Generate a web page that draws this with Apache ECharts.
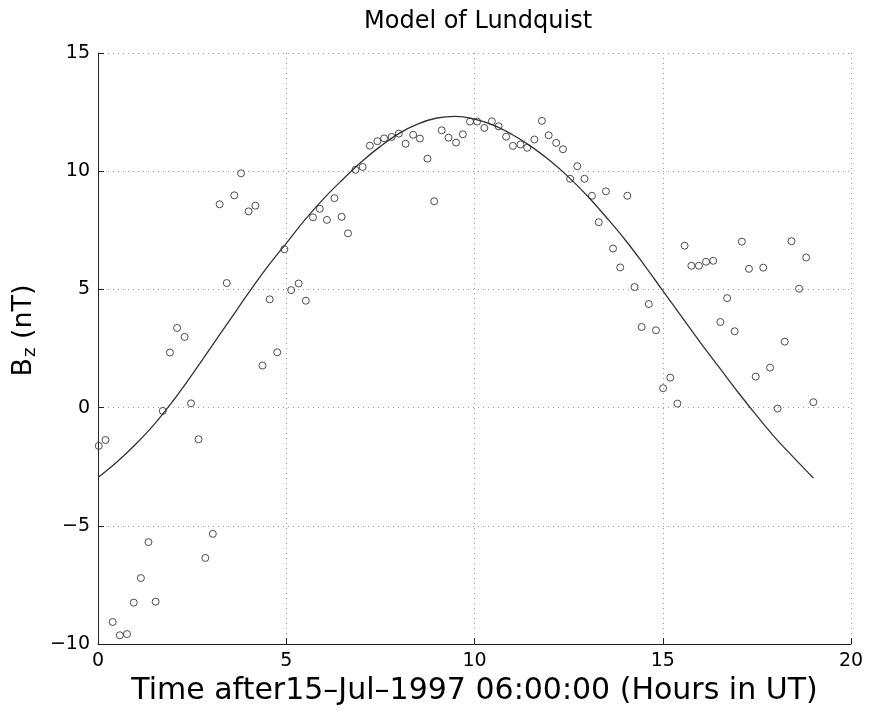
<!DOCTYPE html>
<html>
<head>
<meta charset="utf-8">
<title>Model of Lundquist</title>
<script src="https://cdn.jsdelivr.net/npm/echarts@6/dist/echarts.min.js"></script>
<style>
  html, body { margin: 0; padding: 0; background: #fff; }
  #main-chart { width: 870px; height: 716px; }
</style>
</head>
<body>
<div id="main-chart"></div>
<script>
// measured Bz samples (hours after 15-Jul-1997 06:00 UT, nT)
const obsHours = [
  0.02, 0.20, 0.39, 0.58, 0.77, 0.95, 1.14, 1.34, 1.53, 1.72,
  1.91, 2.10, 2.30, 2.47, 2.67, 2.85, 3.05, 3.23, 3.42, 3.62,
  3.80, 4.00, 4.18, 4.37, 4.56, 4.76, 4.95, 5.13, 5.33, 5.52,
  5.71, 5.89, 6.08, 6.28, 6.47, 6.64, 6.84, 7.03, 7.22, 7.42,
  7.60, 7.80, 7.99, 8.17, 8.37, 8.55, 8.75, 8.93, 9.13, 9.31,
  9.51, 9.69, 9.88, 10.07, 10.26, 10.46, 10.64, 10.84, 11.02, 11.22,
  11.40, 11.59, 11.79, 11.97, 12.17, 12.35, 12.54, 12.73, 12.92, 13.12,
  13.30, 13.49, 13.68, 13.87, 14.06, 14.25, 14.44, 14.63, 14.82, 15.01,
  15.20, 15.39, 15.58, 15.76, 15.96, 16.15, 16.34, 16.53, 16.71, 16.91,
  17.10, 17.29, 17.47, 17.67, 17.85, 18.05, 18.24, 18.42, 18.62, 18.81,
  19.00
];
const obsBz = [
  -1.62, -1.37, -9.07, -9.63, -9.58, -8.25, -7.21, -5.69, -8.21, -0.14,
  2.33, 3.37, 2.99, 0.18, -1.34, -6.36, -5.34, 8.60, 5.27, 8.98,
  9.91, 8.30, 8.54, 1.78, 4.58, 2.34, 6.70, 4.97, 5.25, 4.52,
  8.05, 8.41, 7.94, 8.86, 8.07, 7.37, 10.06, 10.18, 11.08, 11.27,
  11.39, 11.45, 11.59, 11.16, 11.54, 11.38, 10.53, 8.73, 11.73, 11.42,
  11.21, 11.56, 12.10, 12.10, 11.83, 12.11, 11.90, 11.46, 11.07, 11.13,
  10.99, 11.34, 12.13, 11.52, 11.20, 10.93, 9.68, 10.21, 9.68, 8.96,
  7.84, 9.15, 6.73, 5.93, 8.96, 5.10, 3.41, 4.38, 3.27, 0.82,
  1.27, 0.17, 6.85, 6.00, 6.00, 6.17, 6.21, 3.62, 4.63, 3.23,
  7.02, 5.87, 1.31, 5.92, 1.69, -0.04, 2.79, 7.04, 5.03, 6.35,
  0.23
];

// fitted Lundquist model curve
const modelHours = [0, 0.5, 1.0, 1.5, 2.0, 2.5, 3.0, 3.5, 4.0, 4.5, 5.0, 5.5, 6.0, 6.5, 7.0, 7.5,
  8.0, 8.5, 9.0, 9.5, 10.0, 10.5, 11.0, 11.5, 12.0, 12.5, 13.0, 13.5, 14.0, 14.5, 15.0,
  15.5, 16.0, 16.5, 17.0, 17.5, 18.0, 18.5, 19.0];
const modelBz = [-2.96, -2.3, -1.55, -0.7, 0.3, 1.4, 2.55, 3.7, 4.85, 5.95, 6.95, 7.95, 8.85,
  9.65, 10.4, 11.05, 11.6, 12.0, 12.25, 12.32, 12.2, 11.95, 11.55, 11.05, 10.45, 9.75,
  8.95, 8.05, 7.1, 6.05, 4.95, 3.85, 2.75, 1.7, 0.65, -0.35, -1.3, -2.15, -2.98];

const xTicks = [0, 20, 5];   // min, max, step
const yTicks = [-10, 15, 5];

const FONT = 'DejaVu Sans';
const INK = '#222';

const minusFmt = (v) => String(v).replace('-', '\u2212');

const chartDom = document.getElementById('main-chart');
const myChart = echarts.init(chartDom, null, { renderer: 'canvas' });

const option = {
  backgroundColor: '#fff',
  animation: false,
  title: {
    text: 'Model of Lundquist',
    left: 359,
    top: 5,
    textStyle: { fontFamily: FONT, fontSize: 24, fontWeight: 'normal', color: '#000' }
  },
  grid: { left: 98, right: 19, top: 53, bottom: 72 },
  xAxis: {
    type: 'value',
    min: xTicks[0], max: xTicks[1], interval: xTicks[2],
    name: 'Time after15\u2013Jul\u20131997 06:00:00 (Hours in UT)',
    nameLocation: 'middle',
    nameGap: 17,
    nameTextStyle: { fontFamily: FONT, fontSize: 30, color: '#000' },
    axisLine: { onZero: false, lineStyle: { color: INK, width: 1 } },
    axisTick: { inside: true, length: 6, lineStyle: { color: INK } },
    axisLabel: { fontFamily: FONT, fontSize: 19, color: '#000', margin: 8, formatter: minusFmt },
    splitLine: { show: true, lineStyle: { color: '#999', width: 1, type: [1, 4] } }
  },
  yAxis: {
    type: 'value',
    min: yTicks[0], max: yTicks[1], interval: yTicks[2],
    name: '{b|B}{s|z}{b| (nT)}',
    nameLocation: 'middle',
    nameGap: 56,
    nameRotate: 90,
    nameTextStyle: {
      padding: [0, 0, 0, 36],
      rich: {
        b: { fontFamily: FONT, fontSize: 27, color: '#000' },
        s: { fontFamily: FONT, fontSize: 18, color: '#000', verticalAlign: 'bottom', padding: [12, 0, 0, 1] }
      }
    },
    axisLine: { show: true, onZero: false, lineStyle: { color: INK, width: 1 } },
    axisTick: { show: true, inside: true, length: 6, lineStyle: { color: INK } },
    axisLabel: { fontFamily: FONT, fontSize: 19, color: '#000', margin: 8, formatter: minusFmt },
    splitLine: { show: true, lineStyle: { color: '#999', width: 1, type: [1, 4] } }
  },
  series: [
    {
      name: 'observed',
      type: 'scatter',
      data: obsHours.map((h, i) => [h, obsBz[i]]),
      symbol: 'circle',
      symbolSize: 7,
      itemStyle: { color: 'rgba(255,255,255,0)', borderColor: '#222', borderWidth: 1 },
      z: 3
    },
    {
      name: 'model',
      type: 'line',
      data: modelHours.map((h, i) => [h, modelBz[i]]),
      smooth: 0.4,
      showSymbol: false,
      lineStyle: { color: '#333', width: 1.3 },
      z: 2
    }
  ]
};

myChart.setOption(option);
window.addEventListener('resize', () => myChart.resize());
</script>
</body>
</html>
